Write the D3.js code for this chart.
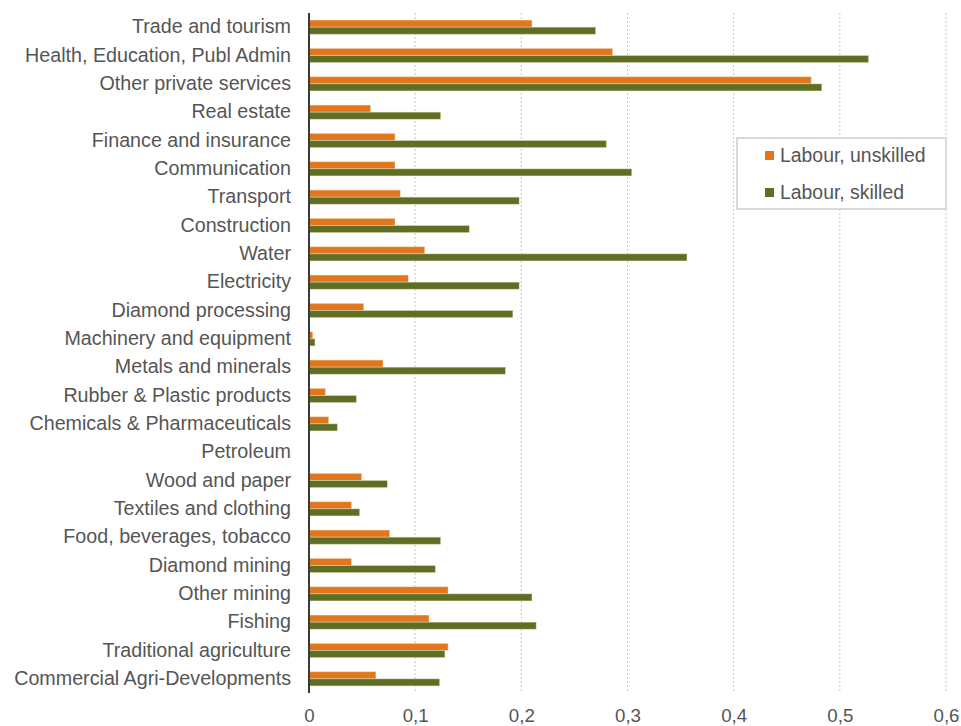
<!DOCTYPE html>
<html>
<head>
<meta charset="utf-8">
<script src="https://cdn.jsdelivr.net/npm/d3@7"></script>
<style>
  html, body { margin: 0; padding: 0; background: #ffffff; }
  svg { display: block; font-family: "Liberation Sans", Arial, sans-serif; }
</style>
</head>
<body>
<svg id="chart" width="961" height="726"></svg>
<script>
// Sectors, top to bottom
const categories = [
  "Trade and tourism",
  "Health, Education, Publ Admin",
  "Other private services",
  "Real estate",
  "Finance and insurance",
  "Communication",
  "Transport",
  "Construction",
  "Water",
  "Electricity",
  "Diamond processing",
  "Machinery and equipment",
  "Metals and minerals",
  "Rubber & Plastic products",
  "Chemicals & Pharmaceuticals",
  "Petroleum",
  "Wood and paper",
  "Textiles and clothing",
  "Food, beverages, tobacco",
  "Diamond mining",
  "Other mining",
  "Fishing",
  "Traditional agriculture",
  "Commercial Agri-Developments"
];

const seriesNames = ["Labour, unskilled", "Labour, skilled"];

const unskilled = [0.210, 0.286, 0.473, 0.058, 0.081, 0.081, 0.086, 0.081, 0.109, 0.0935,
                   0.0515, 0.0035, 0.0697, 0.0154, 0.0185, 0, 0.0496, 0.040, 0.076, 0.040,
                   0.131, 0.113, 0.131, 0.063];
const skilled   = [0.270, 0.527, 0.483, 0.124, 0.280, 0.304, 0.198, 0.151, 0.356, 0.198,
                   0.192, 0.0056, 0.185, 0.0446, 0.0267, 0, 0.0738, 0.0477, 0.124, 0.119,
                   0.210, 0.214, 0.128, 0.123];

const xTicks = [0, 0.1, 0.2, 0.3, 0.4, 0.5, 0.6];
const xTickLabels = ["0", "0,1", "0,2", "0,3", "0,4", "0,5", "0,6"];

const colors = ["#E2761E", "#5E6E25"];

const svg = d3.select("#chart");
const plot = { left: 309, right: 946, top: 13, bottom: 693 };

const x = d3.scaleLinear().domain([0, 0.6]).range([plot.left, plot.right]);
const y = d3.scaleBand().domain(categories).range([plot.top, plot.bottom])
  .paddingInner(0.5).paddingOuter(0.25);
const ySub = d3.scaleBand().domain(seriesNames).range([0, y.bandwidth()]);

// Vertical dotted gridlines
svg.append("g")
  .selectAll("line")
  .data(xTicks.filter(d => d > 0))
  .join("line")
  .attr("x1", d => x(d)).attr("x2", d => x(d))
  .attr("y1", plot.top).attr("y2", plot.bottom)
  .attr("stroke", "#c9c9c9")
  .attr("stroke-width", 1)
  .attr("stroke-dasharray", "2,2");

// Bars
const rows = categories.map((c, i) => ({ cat: c, values: [unskilled[i], skilled[i]] }));
const groups = svg.append("g")
  .selectAll("g")
  .data(rows)
  .join("g")
  .attr("transform", d => `translate(0,${y(d.cat)})`);

groups.selectAll("rect")
  .data(d => d.values.map((v, j) => ({ key: seriesNames[j], v, j })))
  .join("rect")
  .attr("x", x(0))
  .attr("y", d => ySub(d.key))
  .attr("width", d => x(d.v) - x(0))
  .attr("height", ySub.bandwidth())
  .attr("fill", d => colors[d.j])
  .attr("stroke", "rgba(235,228,190,0.55)")
  .attr("stroke-width", 0.8);

// Category axis line
svg.append("line")
  .attr("x1", x(0)).attr("x2", x(0))
  .attr("y1", plot.top).attr("y2", plot.bottom)
  .attr("stroke", "#3a3a3a")
  .attr("stroke-width", 2);

// Category labels
const yAxis = d3.axisLeft(y).tickSize(0).tickPadding(18);
const gy = svg.append("g")
  .attr("transform", `translate(${x(0)},0)`)
  .call(yAxis);
gy.select(".domain").remove();
gy.selectAll("text")
  .attr("fill", "#555555")
  .style("font-size", "19.7px")
  .style("font-family", "'Liberation Sans', Arial, sans-serif");

// Value axis labels
const xAxis = d3.axisBottom(x).tickValues(xTicks)
  .tickFormat((d, i) => xTickLabels[i]).tickSize(0).tickPadding(16);
const gx = svg.append("g")
  .attr("transform", `translate(0,${plot.bottom})`)
  .call(xAxis);
gx.select(".domain").remove();
gx.selectAll("text")
  .attr("fill", "#555555")
  .style("font-size", "18.7px")
  .style("font-family", "'Liberation Sans', Arial, sans-serif");

// Legend
const legend = svg.append("g").attr("transform", "translate(737,138)");
legend.append("rect")
  .attr("width", 209).attr("height", 71)
  .attr("fill", "#ffffff")
  .attr("stroke", "#d9d9d9")
  .attr("stroke-width", 2);
const items = legend.selectAll("g.item")
  .data(seriesNames)
  .join("g")
  .attr("class", "item")
  .attr("transform", (d, i) => `translate(28,${13 + i * 37})`);
items.append("rect")
  .attr("width", 9).attr("height", 9)
  .attr("fill", (d, i) => colors[i]);
items.append("text")
  .attr("x", 15).attr("y", 4.5)
  .attr("dy", "0.35em")
  .attr("fill", "#555555")
  .style("font-size", "19.4px")
  .text(d => d);
</script>
</body>
</html>
